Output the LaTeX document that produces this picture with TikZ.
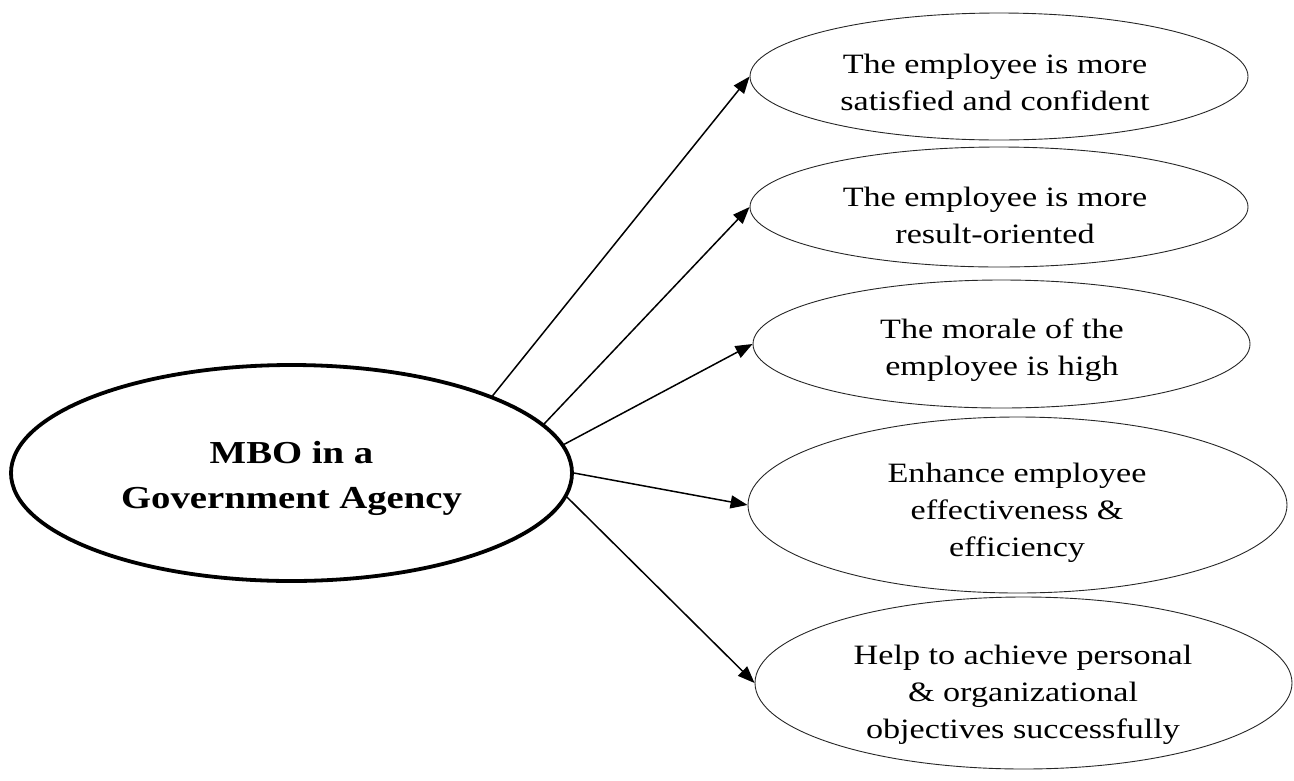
\documentclass[tikz,border=0pt]{standalone}
\usepackage{fontspec}
\setmainfont{Liberation Serif}
\newfontfamily\bodyfont[FakeStretch=1.22]{Liberation Serif}
\newfontfamily\titlefont[FakeStretch=1.21]{Liberation Serif}
\usetikzlibrary{shapes.geometric,arrows.meta}
\tikzset{
  hub/.style={ellipse, draw, line width=3.8pt, inner sep=0pt},
  leaf/.style={ellipse, draw=black!85, line width=0.9pt, inner sep=0pt},
  txt/.style={anchor=base, align=center, inner sep=0pt, font=\bodyfont\fontsize{28}{37}\selectfont},
  ttl/.style={anchor=base, align=center, inner sep=0pt, font=\titlefont\bfseries\fontsize{32}{45}\selectfont},
  link/.style={line width=1.5pt, -{Triangle[length=17pt,width=13pt]}}
}
\begin{document}
\begin{tikzpicture}[x=1pt,y=-1pt]
\useasboundingbox (0,0) rectangle (1294,780);
% hub
\node[hub, minimum width=561pt, minimum height=216pt] (c) at (291.5,473) {};
\node[ttl] (ct) at (291.5,508) {MBO in a\\Government Agency};
% leaves
\node[leaf, minimum width=498pt, minimum height=127pt] (e1) at (999,76.5) {};
\node[leaf, minimum width=498pt, minimum height=120pt] (e2) at (999,207) {};
\node[leaf, minimum width=497pt, minimum height=128pt] (e3) at (1001.5,344) {};
\node[leaf, minimum width=539pt, minimum height=176pt] (e4) at (1017.5,505) {};
\node[leaf, minimum width=537pt, minimum height=172pt] (e5) at (1023.5,683) {};
\node[txt] (t1) at (995,110) {The employee is more\\satisfied and confident};
\node[txt] (t2) at (995,243) {The employee is more\\result-oriented};
\node[txt] (t3) at (1002,375) {The morale of the\\employee is high};
\node[txt] (t4) at (1017,556) {Enhance employee\\effectiveness \&\\efficiency};
\node[txt] (t5) at (1023,738) {Help to achieve personal\\\& organizational\\objectives successfully};
% connectors
\draw[link] (c.21.7) -- (e1.west);
\draw[link] (c.11.8) -- (e2.west);
\draw[link] (c.6.5) -- (e3.west);
\draw[link] (c.-0.2) -- (e4.west);
\draw[link] (c.-5.4) -- (e5.west);
\end{tikzpicture}
\end{document}
